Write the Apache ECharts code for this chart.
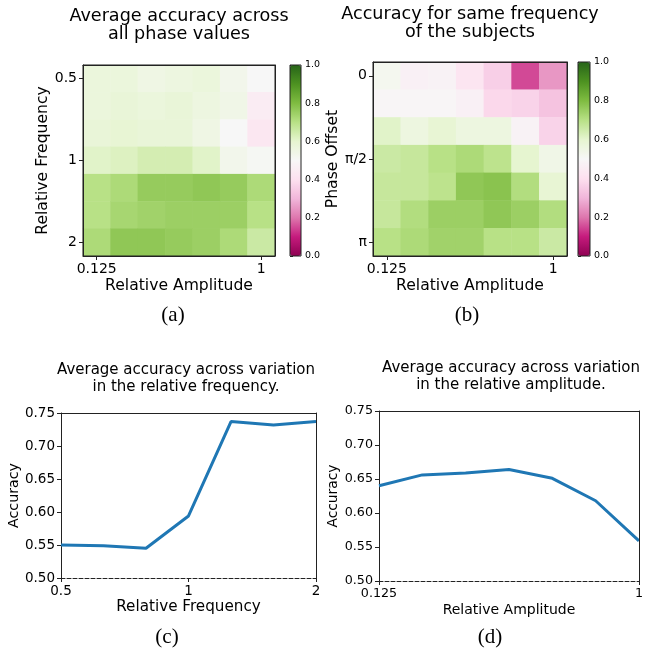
<!DOCTYPE html>
<html>
<head>
<meta charset="utf-8">
<script src="https://cdn.jsdelivr.net/npm/echarts@6/dist/echarts.min.js"></script>
<style>
  html, body { margin: 0; padding: 0; background: #fff; }
  #chart { width: 646px; height: 651px; }
</style>
</head>
<body>
<div id="chart"></div>
<script>
var ampCats = ['0.125', '0.177', '0.25', '0.354', '0.5', '0.707', '1']
var freqCats = ['0.5', '0.63', '0.79', '1', '1.26', '1.59', '2']
var phaseCats = ['0', 'π/6', 'π/3', 'π/2', '2π/3', '5π/6', 'π']

// rows: relative frequency (top to bottom), columns: relative amplitude
var accFreqAmp = [
  [0.57, 0.57, 0.55, 0.56, 0.57, 0.53, 0.50],
  [0.57, 0.58, 0.57, 0.58, 0.56, 0.54, 0.45],
  [0.58, 0.59, 0.58, 0.58, 0.55, 0.50, 0.43],
  [0.61, 0.62, 0.64, 0.64, 0.61, 0.53, 0.51],
  [0.70, 0.72, 0.76, 0.76, 0.77, 0.76, 0.72],
  [0.70, 0.73, 0.74, 0.75, 0.75, 0.75, 0.70],
  [0.72, 0.77, 0.77, 0.76, 0.75, 0.72, 0.66]
]

// rows: phase offset (0 to pi), columns: relative amplitude
var accPhaseAmp = [
  [0.52, 0.47, 0.48, 0.42, 0.36, 0.15, 0.25],
  [0.49, 0.49, 0.49, 0.47, 0.38, 0.37, 0.33],
  [0.61, 0.56, 0.59, 0.56, 0.56, 0.48, 0.37],
  [0.66, 0.67, 0.70, 0.72, 0.69, 0.60, 0.54],
  [0.67, 0.67, 0.69, 0.77, 0.78, 0.71, 0.59],
  [0.67, 0.71, 0.75, 0.75, 0.77, 0.75, 0.71],
  [0.70, 0.72, 0.74, 0.74, 0.70, 0.70, 0.66]
]

var freqAcc = [0.550, 0.549, 0.545, 0.594, 0.737, 0.732, 0.737]
var ampAcc = [0.640, 0.656, 0.659, 0.664, 0.651, 0.618, 0.559]

var piyg = ['#8e0152', '#c51b7d', '#de77ae', '#f1b6da', '#fde0ef', '#f7f7f7',
  '#e6f5d0', '#b8e186', '#7fbc41', '#4d9221', '#276419']

var FONT = 'DejaVu Sans'

function toCells(rows) {
  var out = []
  rows.forEach(function (row, y) {
    row.forEach(function (v, x) { out.push([x, y, v]) })
  })
  return out
}

function only(list) {
  return function (i) { return list.indexOf(i) >= 0 }
}

function titleOf(text, x, top, size, lh) {
  return {
    text: text, left: x, top: top, textAlign: 'center', padding: 0,
    textStyle: { fontFamily: FONT, fontSize: size, lineHeight: lh, fontWeight: 'normal', color: '#000' }
  }
}

function caption(text, x, top) {
  return {
    text: text, left: x, top: top, textAlign: 'center', padding: 0,
    textStyle: { fontFamily: 'Liberation Serif', fontSize: 21, lineHeight: 21, fontWeight: 'normal', color: '#000' }
  }
}

var lineStyleK = { color: '#222', width: 1 }

function catAxis(grid, data, labels, name, fontSize, nameSize, nameGap, extra) {
  var ax = {
    type: 'category', gridIndex: grid, data: data, z: 5,
    name: name, nameLocation: 'middle', nameGap: nameGap,
    nameTextStyle: { fontFamily: FONT, fontSize: nameSize, color: '#000' },
    axisLine: { show: true, lineStyle: lineStyleK },
    axisTick: { show: true, inside: false, length: 4, alignWithLabel: true, interval: only(labels), lineStyle: lineStyleK },
    axisLabel: { interval: only(labels), fontFamily: FONT, fontSize: fontSize, color: '#000', margin: 6 },
    splitLine: { show: false }
  }
  return Object.assign(ax, extra || {})
}

function spine(grid, type, data, pos, extra) {
  var ax = {
    type: type, gridIndex: grid, position: pos, z: 5,
    axisLine: { show: true, onZero: false, lineStyle: lineStyleK },
    axisTick: { show: false }, axisLabel: { show: false }, splitLine: { show: false }
  }
  if (data) ax.data = data
  return Object.assign(ax, extra || {})
}

function colorbarAxis(grid) {
  return {
    type: 'value', gridIndex: grid, position: 'right', min: 0, max: 1, interval: 0.2,
    axisLine: { show: false }, splitLine: { show: false },
    axisTick: { show: true, length: 3, lineStyle: lineStyleK },
    axisLabel: { fontFamily: FONT, fontSize: 9.5, color: '#000', margin: 4, formatter: function (v) { return v.toFixed(1) } }
  }
}

function accAxis(grid, nameGap, nameSize, fontSize) {
  return {
    type: 'value', gridIndex: grid, position: 'left', min: 0.5, max: 0.75, interval: 0.05,
    name: 'Accuracy', nameLocation: 'middle', nameGap: nameGap,
    nameTextStyle: { fontFamily: FONT, fontSize: nameSize, color: '#000' },
    axisLine: { show: true, lineStyle: lineStyleK }, splitLine: { show: false },
    axisTick: { show: true, length: 4, lineStyle: lineStyleK },
    axisLabel: { fontFamily: FONT, fontSize: fontSize, color: '#000', margin: 6, formatter: function (v) { return v.toFixed(2) } }
  }
}

var dashedBottom = { show: true, onZero: false, lineStyle: { color: '#222', width: 1, type: [4, 2] } }
var boxed = { show: true, borderColor: '#222', borderWidth: 1, backgroundColor: 'transparent', z: 10 }

var option = {
  backgroundColor: '#fff',
  animation: false,
  title: [
    titleOf('Average accuracy across\nall phase values', 179, 7, 17.6, 18.5),
    titleOf('Accuracy for same frequency\nof the subjects', 470, 5, 17.6, 18.5),
    titleOf('Average accuracy across variation\nin the relative frequency.', 186, 362, 15, 17),
    titleOf('Average accuracy across variation\nin the relative amplitude.', 511, 360, 15, 16.7),
    caption('(a)', 173, 305),
    caption('(b)', 467, 305),
    caption('(c)', 167, 627),
    caption('(d)', 490, 627)
  ],
  grid: [
    Object.assign({ left: 83, top: 65, width: 192, height: 191 }, boxed),
    Object.assign({ left: 373, top: 62, width: 194, height: 194 }, boxed),
    Object.assign({ left: 290, top: 65, width: 11, height: 191 }, boxed),
    Object.assign({ left: 578, top: 62, width: 12, height: 194 }, boxed),
    { left: 61, top: 413, width: 255, height: 165 },
    { left: 379, top: 411, width: 262, height: 170 }
  ],
  visualMap: [
    {
      type: 'continuous', seriesIndex: 0, min: 0, max: 1, calculable: false,
      orient: 'vertical', left: 290, top: 65, itemWidth: 11, itemHeight: 191, padding: 0,
      text: null, inRange: { color: piyg }, hoverLink: false
    },
    {
      type: 'continuous', seriesIndex: 1, min: 0, max: 1, calculable: false,
      orient: 'vertical', left: 578, top: 62, itemWidth: 12, itemHeight: 194, padding: 0,
      text: null, inRange: { color: piyg }, hoverLink: false
    }
  ],
  xAxis: [
    catAxis(0, ampCats, [0, 6], 'Relative Amplitude', 14, 15.6, 22, { position: 'bottom' }),
    spine(0, 'category', ampCats, 'top'),
    catAxis(1, ampCats, [0, 6], 'Relative Amplitude', 14, 15.6, 22, { position: 'bottom' }),
    spine(1, 'category', ampCats, 'top'),
    { type: 'value', gridIndex: 2, show: false, min: 0, max: 1 },
    { type: 'value', gridIndex: 3, show: false, min: 0, max: 1 },
    catAxis(4, freqCats, [0, 3, 6], 'Relative Frequency', 13.5, 15.2, 22, {
      position: 'bottom', boundaryGap: false, axisLine: dashedBottom
    }),
    spine(4, 'category', freqCats, 'top', { boundaryGap: false }),
    catAxis(5, ampCats, [0, 6], 'Relative Amplitude', 12.7, 14, 22, {
      position: 'bottom', boundaryGap: false, axisLine: dashedBottom
    }),
    spine(5, 'category', ampCats, 'top', { boundaryGap: false })
  ],
  yAxis: [
    catAxis(0, freqCats, [0, 3, 6], 'Relative Frequency', 14, 15.6, 32, { inverse: true, position: 'left' }),
    spine(0, 'category', freqCats, 'right', { inverse: true }),
    catAxis(1, phaseCats, [0, 3, 6], 'Phase Offset', 14, 15.6, 30, { inverse: true, position: 'left' }),
    spine(1, 'category', phaseCats, 'right', { inverse: true }),
    colorbarAxis(2),
    colorbarAxis(3),
    accAxis(4, 39, 14.2, 13.5),
    spine(4, 'value', null, 'right', { min: 0.5, max: 0.75 }),
    accAxis(5, 37, 13.8, 12.7),
    spine(5, 'value', null, 'right', { min: 0.5, max: 0.75 })
  ],
  series: [
    { type: 'heatmap', xAxisIndex: 0, yAxisIndex: 0, data: toCells(accFreqAmp), itemStyle: { borderWidth: 0 } },
    { type: 'heatmap', xAxisIndex: 2, yAxisIndex: 2, data: toCells(accPhaseAmp), itemStyle: { borderWidth: 0 } },
    {
      type: 'line', xAxisIndex: 6, yAxisIndex: 6, data: freqAcc, showSymbol: false, symbol: 'none',
      lineStyle: { color: '#1f77b4', width: 3 }, itemStyle: { color: '#1f77b4' }
    },
    {
      type: 'line', xAxisIndex: 8, yAxisIndex: 8, data: ampAcc, showSymbol: false, symbol: 'none',
      lineStyle: { color: '#1f77b4', width: 3 }, itemStyle: { color: '#1f77b4' }
    }
  ]
}

echarts.init(document.getElementById('chart')).setOption(option)
</script>
</body>
</html>
